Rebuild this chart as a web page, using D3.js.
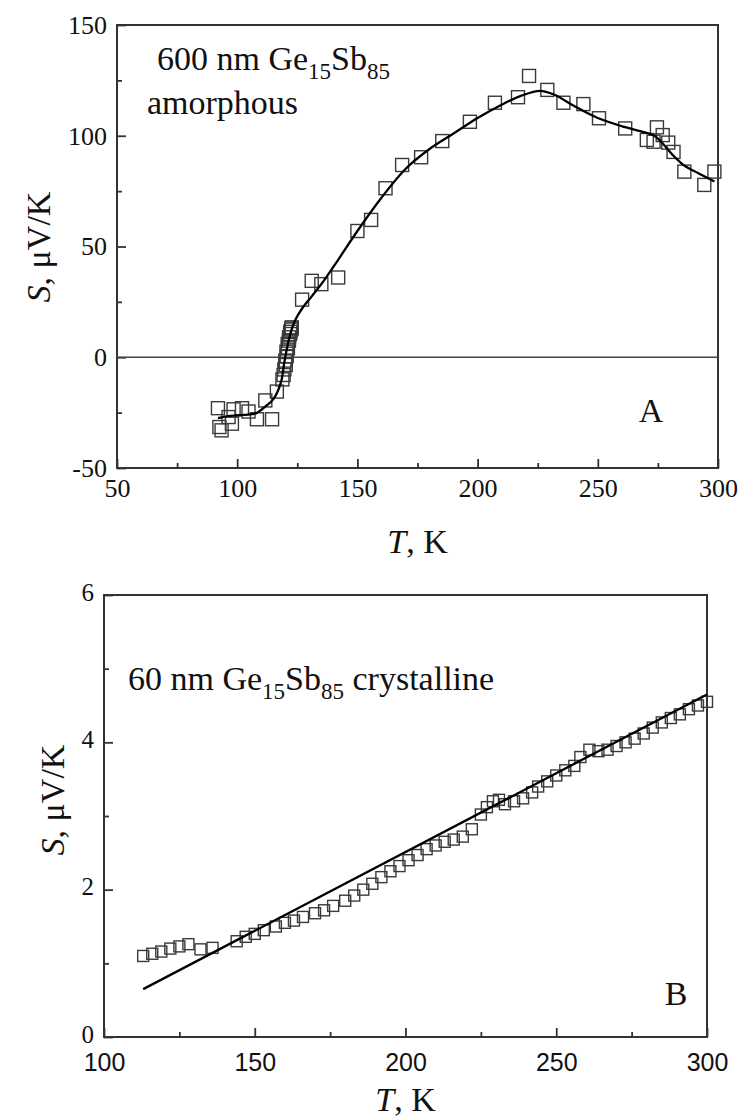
<!DOCTYPE html>
<html>
<head>
<meta charset="utf-8">
<script src="https://cdn.jsdelivr.net/npm/d3@7"></script>
<style>
  body { margin: 0; background: #fff; }
</style>
</head>
<body>
<div id="chart"></div>
<script>
const SERIF = '"Liberation Serif", "Times New Roman", serif'
const SANS = '"Liberation Sans", Arial, sans-serif'

// panel A: 600 nm amorphous film
const tA = [92, 92.6, 93.5, 96.4, 97.8, 98.5, 102, 104.7, 108.2, 111.7, 114.5, 116.5,
  118.8, 119.3, 119.6, 120.2, 120.0, 120.6, 120.5, 121.1, 121.0, 121.5, 121.6, 122.0, 122.1, 122.4, 122.6, 122.7,
  127, 131, 135, 142, 150, 155.7, 161.7, 168.6, 176.5, 185.3, 196.8, 207.2, 216.8, 221.4, 229,
  235.7, 244, 250.5, 261.4, 270.4, 273.2, 274.6, 277, 279.3, 281.5, 286, 294.3, 298.5]
const sA = [-23, -31.5, -33, -27, -30, -23.5, -23, -24.5, -28, -19.5, -28, -15.5,
  -10, -8, -5.5, -3.5, -1.5, 0.5, 2.5, 4, 6, 7.5, 9, 10.5, 11.5, 12.5, 13, 13.5,
  26, 34.5, 33, 36, 57, 62, 76.3, 86.8, 90.3, 97.6, 106.3, 114.9, 117.4, 127, 120.7,
  114.9, 114.3, 107.9, 103.3, 98.1, 97.3, 103.8, 100.3, 96.9, 92.7, 83.8, 77.8, 83.8]
const fitTA = [92, 97, 103, 108, 112, 115, 117, 118.5, 119.5, 120.5, 121.5, 122.5, 124, 127, 131,
  136, 142, 150, 160, 170, 180, 190, 200, 210, 218, 226, 232, 240, 250, 261, 268,
  273.5, 277, 281, 286, 292, 298.5]
const fitSA = [-27.5, -26.5, -26, -25.2, -22, -19, -15, -10, -3, 3, 8, 12, 16.5, 22, 27.5,
  34.5, 44, 57, 72, 85, 94, 101, 108, 114, 118, 120.3, 118.5, 113.5, 108, 104, 102,
  100, 96.5, 91.5, 86.5, 83, 79.3]
const xTicksA = [50, 100, 150, 200, 250, 300]
const yTicksA = [-50, 0, 50, 100, 150]

// panel B: 60 nm crystalline film
const tB = [113, 116, 119, 122, 125, 128, 132, 136, 144, 147, 150, 153, 157, 160, 163, 166, 170, 173,
  176, 180, 183, 186, 189, 192, 195, 198, 201, 204, 207, 210, 213, 216, 219, 222, 225, 227, 229, 231,
  233, 236, 239, 242, 244, 247, 250, 253, 256, 258, 261, 264, 267, 270, 273, 276, 279, 282, 285, 288,
  291, 294, 297, 300]
const sB = [1.1, 1.13, 1.16, 1.2, 1.23, 1.26, 1.19, 1.21, 1.3, 1.36, 1.4, 1.45, 1.5, 1.55, 1.58, 1.63,
  1.68, 1.72, 1.78, 1.85, 1.92, 2.0, 2.08, 2.17, 2.25, 2.32, 2.4, 2.47, 2.55, 2.6, 2.65, 2.68, 2.72,
  2.82, 3.02, 3.12, 3.2, 3.22, 3.16, 3.2, 3.24, 3.32, 3.4, 3.47, 3.55, 3.62, 3.68, 3.8, 3.9, 3.88,
  3.9, 3.95, 4.0, 4.05, 4.12, 4.2, 4.27, 4.33, 4.38, 4.45, 4.5, 4.55]
const fitTB = [113, 300]
const fitSB = [0.65, 4.65]
const xTicksB = [100, 150, 200, 250, 300]
const yTicksB = [0, 2, 4, 6]

const W = 741, H = 1119
const svg = d3.select("#chart").append("svg")
    .attr("width", W).attr("height", H)
    .attr("viewBox", `0 0 ${W} ${H}`)

const fmt = d => String(d)   // plain hyphen for negatives, no decimals

const drawPanel = (p) => {
    const g = svg.append("g").attr("class", p.name)
    const x = d3.scaleLinear().domain(p.xDom).range([p.left, p.right])
    const y = d3.scaleLinear().domain(p.yDom).range([p.bottom, p.top])

    // minor ticks (inward, unlabeled)
    g.append("g")
        .attr("transform", `translate(0,${p.bottom})`)
        .call(d3.axisBottom(x).tickValues(p.xMinor).tickSize(-5).tickFormat(""))
    g.append("g")
        .attr("transform", `translate(${p.left},0)`)
        .call(d3.axisLeft(y).tickValues(p.yMinor).tickSize(-5).tickFormat(""))

    const xa = g.append("g")
        .attr("transform", `translate(0,${p.bottom})`)
        .call(d3.axisBottom(x).tickValues(p.xTicks).tickFormat(fmt).tickSize(-9).tickPadding(p.xPad))
    const ya = g.append("g")
        .attr("transform", `translate(${p.left},0)`)
        .call(d3.axisLeft(y).tickValues(p.yTicks).tickFormat(fmt).tickSize(-9).tickPadding(10))

    xa.selectAll("text").style("font-family", p.xFont).style("font-size", p.xFs + "px").attr("fill", "#111")
    ya.selectAll("text").style("font-family", SERIF).style("font-size", p.yFs + "px").attr("fill", "#111")
        .attr("dy", p.yDy)
    g.selectAll(".domain").remove()
    g.selectAll(".tick line").attr("stroke", "#333").attr("stroke-width", 1.8)

    g.append("rect")
        .attr("x", p.left).attr("y", p.top)
        .attr("width", p.right - p.left).attr("height", p.bottom - p.top)
        .attr("fill", "none").attr("stroke", "#333").attr("stroke-width", 2)

    if (p.zero) {
        g.append("line")
            .attr("x1", p.left).attr("x2", p.right)
            .attr("y1", y(0)).attr("y2", y(0))
            .attr("stroke", "#444").attr("stroke-width", 1.6)
    }

    const pts = p.t.map((t, i) => ({t, s: p.s[i]}))
    g.append("g").selectAll("rect")
        .data(pts)
        .join("rect")
        .attr("x", d => x(d.t) - p.sq / 2)
        .attr("y", d => y(d.s) - p.sq / 2)
        .attr("width", p.sq).attr("height", p.sq)
        .attr("fill", "none").attr("stroke", "#3a3a3a").attr("stroke-width", 1.4)

    const fit = p.fitT.map((t, i) => [t, p.fitS[i]])
    g.append("path")
        .datum(fit)
        .attr("fill", "none").attr("stroke", "#000").attr("stroke-width", 2.3)
        .attr("d", d3.line().x(d => x(d[0])).y(d => y(d[1])).curve(d3.curveCatmullRom.alpha(0.5)))

    // axis titles
    const yt = g.append("text").style("font-family", SERIF)
        .attr("transform", `translate(${p.yTitleX},${p.yTitleY}) rotate(-90)`)
        .attr("text-anchor", "middle").style("font-size", "34px").attr("fill", "#111")
    yt.append("tspan").attr("font-style", "italic").text("S")
    yt.append("tspan").text(", \u03bcV/K")

    const xt = g.append("text").style("font-family", SERIF)
        .attr("x", (p.left + p.right) / 2).attr("y", p.xTitleY)
        .attr("text-anchor", "middle").style("font-size", "34px").attr("fill", "#111")
    xt.append("tspan").attr("font-style", "italic").text("T")
    xt.append("tspan").text(", K")

    // sample label with subscripts
    const lab = g.append("text").style("font-family", SERIF).attr("fill", "#111")
        .attr("x", p.labX).attr("y", p.labY).style("font-size", "34px")
    lab.append("tspan").text(p.thick + " nm Ge")
    lab.append("tspan").attr("dy", 9).style("font-size", "23px").text("15")
    lab.append("tspan").attr("dy", -9).text("Sb")
    lab.append("tspan").attr("dy", 9).style("font-size", "23px").text("85")
    if (p.phaseInline) lab.append("tspan").attr("dy", -9).text(" " + p.phase)
    else g.append("text").style("font-family", SERIF).attr("fill", "#111")
        .attr("x", p.labX - 10).attr("y", p.labY + 44).style("font-size", "34px").text(p.phase)

    g.append("text").style("font-family", SERIF).attr("fill", "#111")
        .attr("x", p.letterX).attr("y", p.letterY)
        .attr("text-anchor", "middle").style("font-size", "34px").text(p.letter)
}

drawPanel({
    name: "panelA", xDom: [50, 300], yDom: [-50, 150],
    left: 117, right: 718, top: 25, bottom: 468,
    xTicks: xTicksA, yTicks: yTicksA,
    xMinor: [75, 125, 175, 225, 275], yMinor: [-25, 25, 75, 125],
    xFont: SERIF, xFs: 26, xPad: 11, yFs: 26, yDy: "0.32em",
    t: tA, s: sA, fitT: fitTA, fitS: fitSA, sq: 13, zero: true,
    yTitleX: 50, yTitleY: 247, xTitleY: 553,
    thick: "600", phase: "amorphous", phaseInline: false, labX: 157, labY: 70,
    letter: "A", letterX: 651, letterY: 422
})

drawPanel({
    name: "panelB", xDom: [100, 300], yDom: [0, 6],
    left: 104, right: 707, top: 595, bottom: 1037,
    xTicks: xTicksB, yTicks: yTicksB,
    xMinor: [125, 175, 225, 275], yMinor: [1, 3, 5],
    xFont: SANS, xFs: 25, xPad: 16, yFs: 25, yDy: "0.2em",
    t: tB, s: sB, fitT: fitTB, fitS: fitSB, sq: 11, zero: false,
    yTitleX: 64, yTitleY: 800, xTitleY: 1111,
    thick: "60", phase: "crystalline", phaseInline: true, labX: 128, labY: 690,
    letter: "B", letterX: 676, letterY: 1005
})
</script>
</body>
</html>
